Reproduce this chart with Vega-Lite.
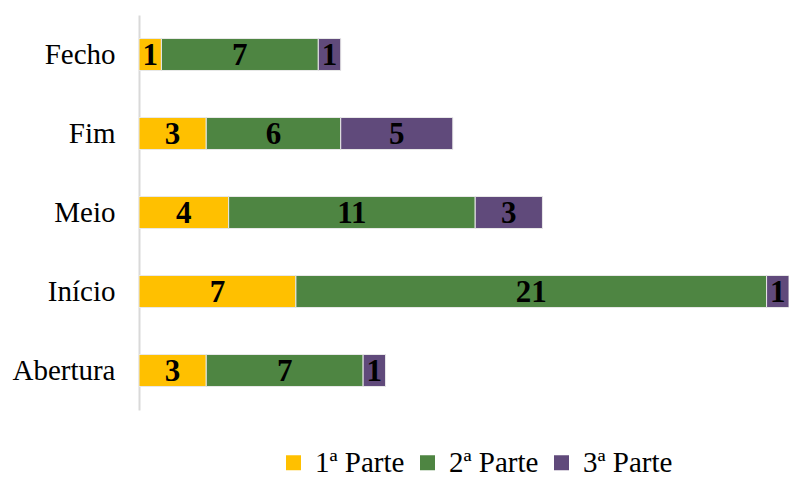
{
  "$schema": "https://vega.github.io/schema/vega-lite/v6.json",
  "width": 650,
  "height": 395,
  "autosize": "none",
  "padding": {"left": 139, "top": 15, "right": 0, "bottom": 67},
  "background": "white",
  "config": {"view": {"stroke": null}, "font": "Liberation Serif"},
  "data": {"values": [
    {"cat": "Fecho", "part": "1ª Parte", "ord": 1, "v": 1},
    {"cat": "Fecho", "part": "2ª Parte", "ord": 2, "v": 7},
    {"cat": "Fecho", "part": "3ª Parte", "ord": 3, "v": 1},
    {"cat": "Fim", "part": "1ª Parte", "ord": 1, "v": 3},
    {"cat": "Fim", "part": "2ª Parte", "ord": 2, "v": 6},
    {"cat": "Fim", "part": "3ª Parte", "ord": 3, "v": 5},
    {"cat": "Meio", "part": "1ª Parte", "ord": 1, "v": 4},
    {"cat": "Meio", "part": "2ª Parte", "ord": 2, "v": 11},
    {"cat": "Meio", "part": "3ª Parte", "ord": 3, "v": 3},
    {"cat": "Início", "part": "1ª Parte", "ord": 1, "v": 7},
    {"cat": "Início", "part": "2ª Parte", "ord": 2, "v": 21},
    {"cat": "Início", "part": "3ª Parte", "ord": 3, "v": 1},
    {"cat": "Abertura", "part": "1ª Parte", "ord": 1, "v": 3},
    {"cat": "Abertura", "part": "2ª Parte", "ord": 2, "v": 7},
    {"cat": "Abertura", "part": "3ª Parte", "ord": 3, "v": 1}
  ]},
  "transform": [
    {"stack": "v", "groupby": ["cat"], "sort": [{"field": "ord", "order": "ascending"}], "as": ["x0", "x1"]},
    {"calculate": "(datum.x0 + datum.x1) / 2", "as": "mid"}
  ],
  "encoding": {
    "y": {
      "field": "cat", "type": "nominal",
      "sort": ["Fecho", "Fim", "Meio", "Início", "Abertura"],
      "scale": {"paddingInner": 0.595, "paddingOuter": 0.2975},
      "axis": {
        "title": null, "ticks": false, "labelFontSize": 29, "labelColor": "#000000",
        "labelFont": "Liberation Serif", "labelPadding": 24, "labelLimit": 300,
        "domainColor": "#d9d9d9", "domainWidth": 2
      }
    }
  },
  "layer": [
    {
      "mark": {"type": "bar", "stroke": "#e8e8e8", "strokeWidth": 1},
      "encoding": {
        "x": {"field": "x0", "type": "quantitative", "scale": {"domain": [0, 29], "nice": false}, "axis": null},
        "x2": {"field": "x1"},
        "color": {
          "field": "part", "type": "nominal",
          "scale": {"domain": ["1ª Parte", "2ª Parte", "3ª Parte"], "range": ["#FFC000", "#4E8542", "#604A7B"]},
          "legend": {
            "title": null, "orient": "none", "direction": "horizontal",
            "legendX": 140, "legendY": 433,
            "symbolType": "square", "symbolSize": 225, "symbolStrokeWidth": 0,
            "labelFontSize": 29, "labelFont": "Liberation Serif", "labelColor": "#000000",
            "labelOffset": 7, "columnPadding": 8, "labelLimit": 300
          }
        }
      }
    },
    {
      "mark": {"type": "text", "font": "Liberation Serif", "fontSize": 31, "fontWeight": "bold", "color": "#000000", "baseline": "middle", "dy": 1},
      "encoding": {
        "x": {"field": "mid", "type": "quantitative"},
        "text": {"field": "v", "type": "quantitative"}
      }
    }
  ]
}
